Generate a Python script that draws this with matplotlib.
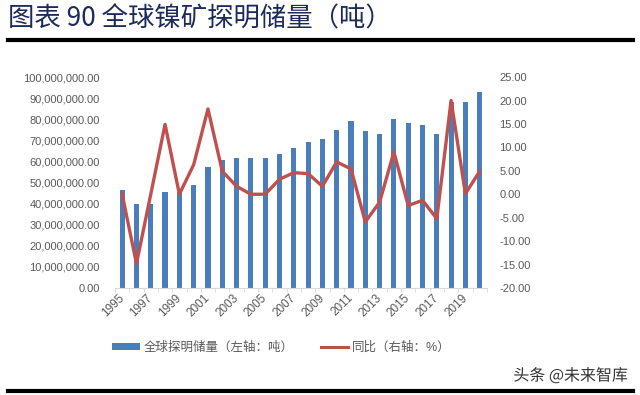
import matplotlib
matplotlib.use('Agg')
import matplotlib.pyplot as plt
from matplotlib.lines import Line2D
from matplotlib.patches import Patch
from matplotlib.ticker import FuncFormatter
import matplotlib.patheffects as pe

# 字体：数字用 Liberation Sans，中文回退到 Noto Sans CJK SC
plt.rcParams['font.family'] = ['Liberation Sans', 'Noto Sans CJK SC']
plt.rcParams['axes.unicode_minus'] = False

# 数据
years = list(range(1995, 2021))
reserves = [46.5, 39.6, 39.6, 45.5, 45.3, 48.6, 57.5, 60.5, 61.5, 61.5,
            61.5, 63.3, 66.4, 69.3, 70.4, 75.0, 79.3, 74.3, 73.2, 80.0,
            78.1, 77.2, 73.2, 88.0, 88.4, 93.0]  # 百万吨
yoy = [0.0, -14.8, 0.0, 14.9, 0.0, 6.3, 18.2, 4.9, 1.7, 0.0,
       0.0, 3.2, 4.6, 4.4, 1.7, 6.9, 5.4, -5.9, -1.7, 9.0,
       -2.4, -1.3, -5.2, 20.0, 0.1, 4.9]
reserves_t = [v * 1e6 for v in reserves]

bar_color = '#4A7EBB'
line_color = '#C0504D'
tick_color = '#595959'

fig = plt.figure(figsize=(6.4, 3.95), dpi=100)
ax = fig.add_axes([0.1797, 0.2709, 0.581, 0.534])
ax2 = ax.twinx()

x = range(len(years))
ax.bar(x, reserves_t, width=0.36, color=bar_color, zorder=2)
ax2.plot(x, yoy, color=line_color, lw=2.4, zorder=3)

ax.set_xlim(-0.5, len(years) - 0.5)
ax.set_ylim(0, 100e6)
ax.set_yticks([i * 10e6 for i in range(11)])
ax.yaxis.set_major_formatter(FuncFormatter(lambda v, p: '{:,.2f}'.format(v)))
ax2.set_ylim(-20, 25)
ax2.set_yticks(range(-20, 26, 5))
ax2.yaxis.set_major_formatter(FuncFormatter(lambda v, p: '{:.2f}'.format(v)))

# 横轴标签每隔一年
ax.set_xticks(range(0, len(years), 2))
ax.set_xticklabels([str(y) for y in years[::2]], rotation=45, ha='right',
                   va='center', rotation_mode='anchor')
ax.set_xticks([i - 0.5 for i in range(len(years) + 1)], minor=True)
ax.tick_params(axis='x', which='major', length=0, pad=6, labelsize=8.5, colors=tick_color)
ax.tick_params(axis='x', which='minor', length=3, color='#D9D9D9')
ax.tick_params(axis='y', length=0, labelsize=8, colors=tick_color, pad=11)
ax2.tick_params(axis='y', length=0, labelsize=8, colors=tick_color, pad=9)

for a in (ax, ax2):
    for s in ('top', 'left', 'right'):
        a.spines[s].set_visible(False)
ax.spines['bottom'].set_color('#D9D9D9')
ax2.spines['bottom'].set_visible(False)

# 标题
fig.text(8 / 640, 1 - 19 / 395, '图表 90 全球镍矿探明储量（吨）', fontsize=19,
         fontweight='medium', color='#1C2B5A', va='center', ha='left',
         family=['Noto Sans CJK SC'])
fig.add_artist(Line2D([8 / 640, 633 / 640], [1 - 40 / 395] * 2, lw=3, color='black'))
fig.add_artist(Line2D([8 / 640, 633 / 640], [1 - 391 / 395] * 2, lw=3, color='black'))

# 图例
handles = [Patch(facecolor=bar_color, label='全球探明储量（左轴：吨）'),
           Line2D([], [], color=line_color, lw=2.2, label='同比（右轴：%）')]
leg = fig.legend(handles=handles, loc='center', bbox_to_anchor=(0.44, 1 - 348 / 395),
                 ncol=2, frameon=False, fontsize=9, handlelength=2.2,
                 handleheight=0.5, handletextpad=0.3, columnspacing=2.2,
                 labelcolor=tick_color)

# 水印
fig.text(628 / 640, 1 - 376 / 395, '头条 @未来智库', fontsize=11.5, color='#333333',
         ha='right', va='center', family=['Noto Sans CJK SC'],
         path_effects=[pe.withStroke(linewidth=2, foreground='white')])

fig.savefig('out.png', dpi=100)
